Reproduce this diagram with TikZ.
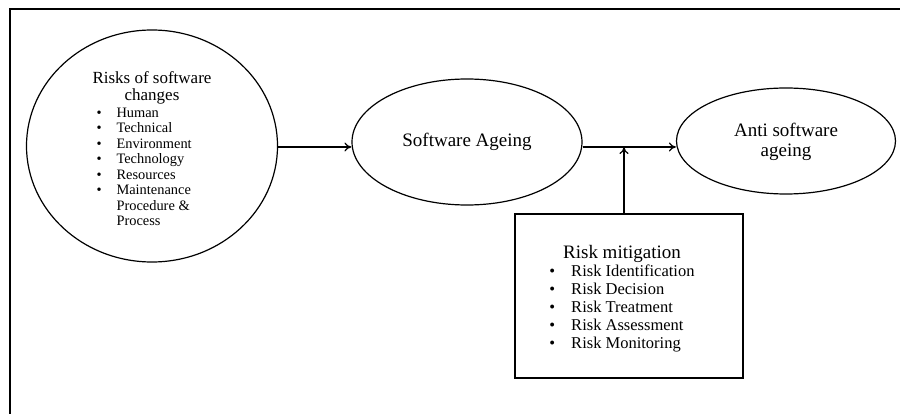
\documentclass[tikz,border=0pt]{standalone}
\usepackage{fontspec}
\setmainfont{Liberation Serif}
\usetikzlibrary{shapes.geometric,arrows.meta}

\tikzset{every picture/.style={line width=1.2pt}}
\tikzset{
  oval/.style={draw,ellipse,inner sep=0pt,align=center,font=\fontsize{19}{20}\selectfont},
  riskbox/.style={draw,rectangle,inner sep=0pt,minimum width=228,minimum height=164},
  flow/.style={-{To[length=7pt,width=9pt]}}
}
\newcommand{\riskhead}[1]{\multicolumn{2}{c}{#1}}
\newcommand{\lowered}[2]{\raisebox{-#1}[\height][\depth]{#2}}

\begin{document}
\begin{tikzpicture}[x=1pt,y=1pt,yscale=-1,xscale=1]
\useasboundingbox (0,0) rectangle (900,414);

%frame
\draw[line width=1.6pt] (10,414) -- (10,9) -- (900,9);

%Flowchart: risks of software changes
\node[oval,minimum width=251,minimum height=232] (risks) at (152,146) {%
  \fontsize{14.4}{15.5}\selectfont
  \lowered{5pt}{\begin{tabular}{@{\hspace{10pt}}c@{\hspace{15pt}}l@{}}
    \riskhead{\fontsize{17}{17}\selectfont Risks of software}\\[1pt]
    \riskhead{\fontsize{17}{17}\selectfont changes}\\[1pt]
    \textbullet & Human\\
    \textbullet & Technical\\
    \textbullet & Environment\\
    \textbullet & Technology\\
    \textbullet & Resources\\
    \textbullet & Maintenance\\
                & Procedure \&\\
                & Process
  \end{tabular}}};

%Flowchart: software ageing
\node[oval,minimum width=230,minimum height=126] (ageing) at (467,142) {Software Ageing};

%Flowchart: anti software ageing
\node[oval,minimum width=219,minimum height=106] (anti) at (786,141) {%
  \lowered{2pt}{\begin{tabular}{@{}c@{}}Anti software\\ageing\end{tabular}}};

%Process: risk mitigation
\node[riskbox] (mitig) at (629,296) {%
  \fontsize{16.5}{18}\selectfont
  \lowered{4pt}{\begin{tabular}{@{}c@{\hspace{16pt}}l@{}}
    \riskhead{\fontsize{19}{19}\selectfont Risk mitigation}\\
    \textbullet & Risk Identification\\
    \textbullet & Risk Decision\\
    \textbullet & Risk Treatment\\
    \textbullet & Risk Assessment\\
    \textbullet & Risk Monitoring
  \end{tabular}}\kern14pt};

%connectors
\coordinate (join) at (624,147);
\draw[flow] (risks.east |- join) -- (ageing.west |- join);
\draw[flow] (ageing.east |- join) -- (anti.west |- join);
\draw[flow] (mitig.north -| join) -- (join);

\end{tikzpicture}
\end{document}
